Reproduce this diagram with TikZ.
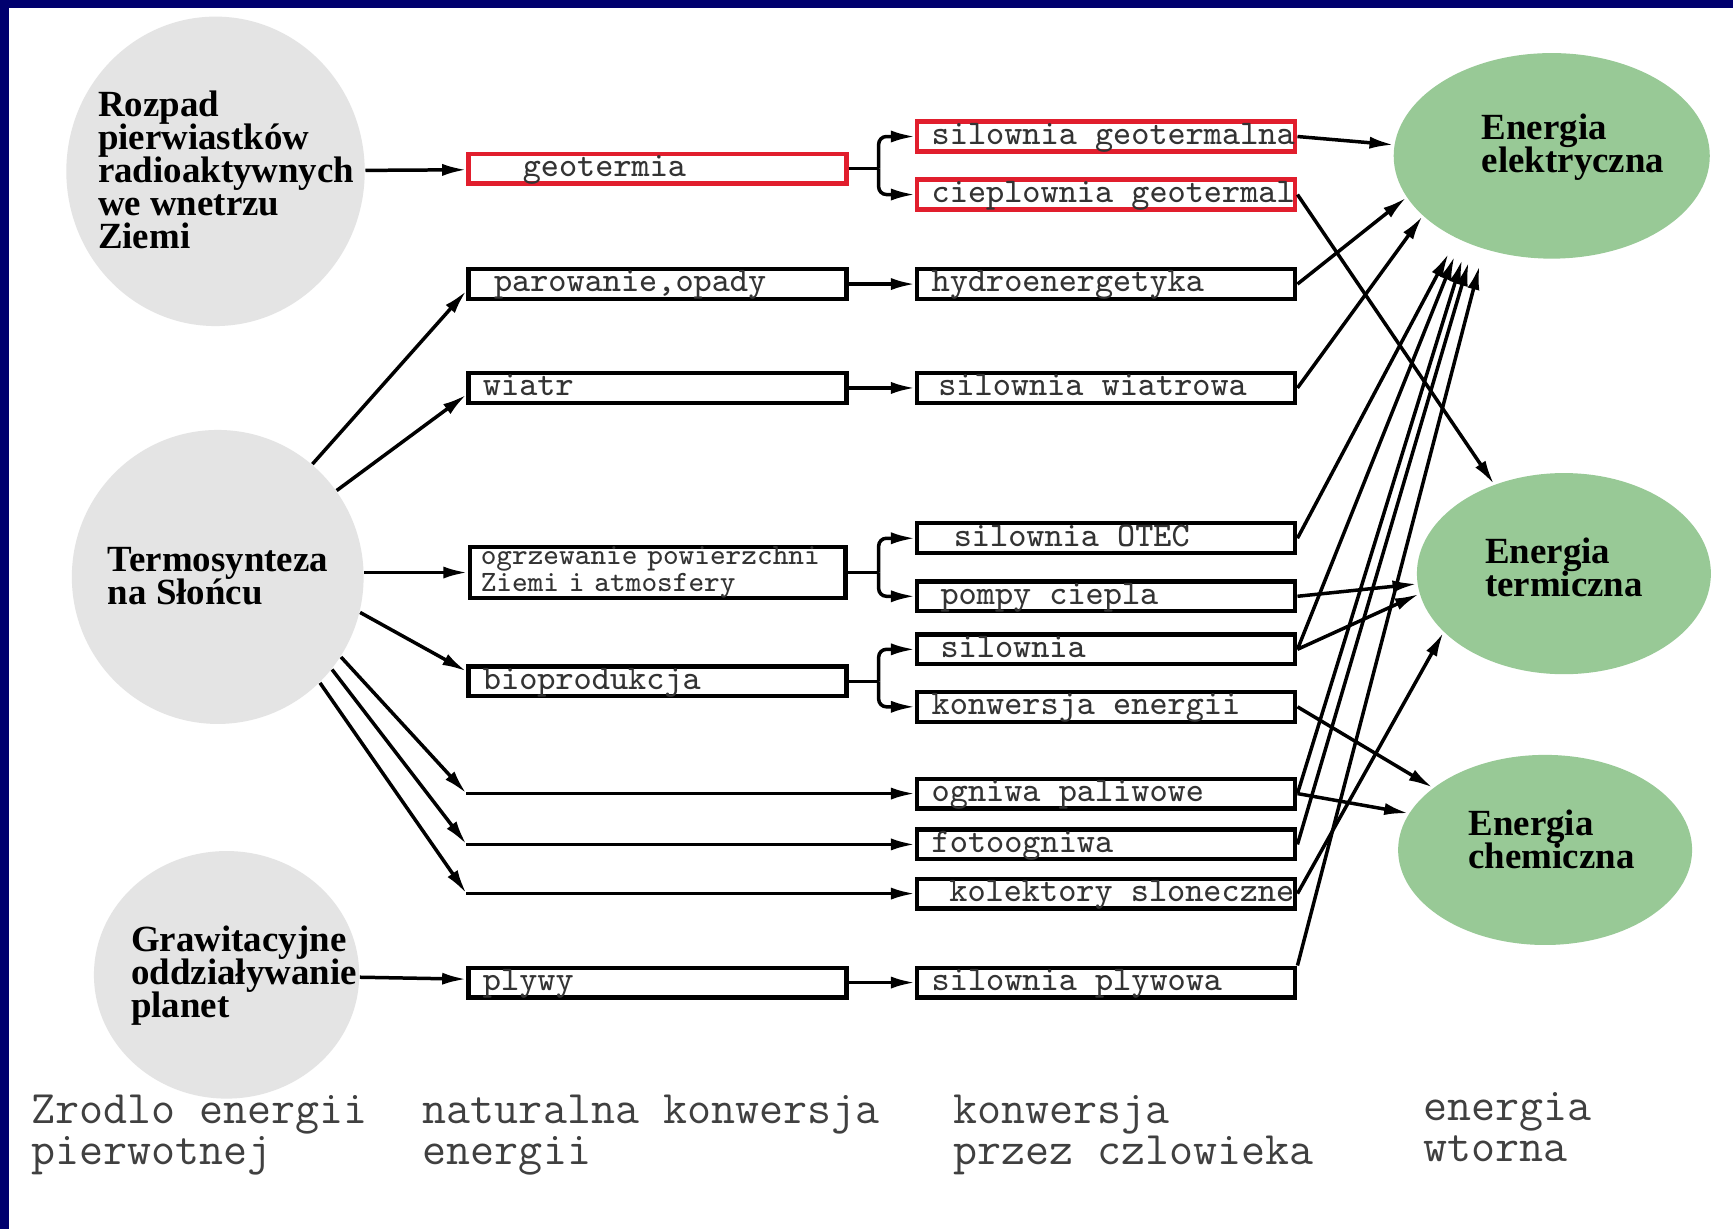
\documentclass[tikz,border=0pt]{standalone}
\usepackage{fontspec}
\setmainfont{Liberation Serif}
\usepackage{tikz}
\usetikzlibrary{arrows.meta,shapes.geometric,positioning}

\definecolor{frameblue}{RGB}{0,0,110}
\definecolor{srcgray}{RGB}{228,228,228}
\definecolor{outgreen}{RGB}{152,201,150}
\definecolor{boxred}{RGB}{225,30,45}

\newcommand{\srcfont}{\fontsize{9.5pt}{8.5pt}\selectfont\lineskiplimit=-6pt\bfseries}
\newcommand{\boxfont}{\fontsize{8.9pt}{8pt}\selectfont\ttfamily}
\newcommand{\smallboxfont}{\fontsize{7.6pt}{6.8pt}\selectfont\lineskiplimit=-6pt\ttfamily}
\newcommand{\capfont}{\fontsize{12pt}{10.6pt}\selectfont\lineskiplimit=-6pt\ttfamily}

\tikzset{
  srcell/.style={ellipse, fill=srcgray, inner sep=0pt},
  outell/.style={ellipse, fill=outgreen, inner sep=0pt},
  lbl/.style={anchor=west, align=left, inner sep=0pt, font=\srcfont},
  box/.style={draw, fill=white, line width=1.1pt, text=black!80, font=\boxfont,
    minimum width=34.2mm, minimum height=2.7mm, inner xsep=1.3mm, inner ysep=0pt,
    text height=1.9mm, text depth=0.5mm,
    execute at begin node={\hbox to 31.6mm\bgroup}, execute at end node={\hfil\egroup}},
  redbox/.style={box, draw=boxred},
  twobox/.style={draw, fill=white, line width=1.1pt, text=black!80, font=\smallboxfont,
    minimum height=4.6mm, inner xsep=1mm, inner ysep=0pt, text width=32mm, align=left},
  arr/.style={-{Latex[length=2.2mm,width=1.1mm]}, line width=0.9pt},
  caption/.style={anchor=west, align=left, inner sep=0pt, font=\capfont, text=black!75}
}

\begin{document}
\begin{tikzpicture}[x=0.1mm, y=-0.1mm]
\useasboundingbox (0,0) rectangle (1568,1112);
\fill[frameblue] (0,0) rectangle (1568,1112);
\fill[white] (8,7.5) rectangle (1568,1112);

% zrodla energii pierwotnej
\node[srcell, minimum width=27mm, minimum height=28mm] (rozpad) at (195,155) {};
\node[srcell, minimum width=26.4mm, minimum height=26.6mm] (termo) at (197,522) {};
\node[srcell, minimum width=24mm, minimum height=22.4mm] (grawit) at (205,882) {};
\node[lbl] (rozpadtxt) at (88,154) {Rozpad\\pierwiastków\\radioaktywnych\\we wnetrzu\\Ziemi};
\node[lbl] (termotxt) at (97,521) {Termosynteza\\na Słońcu};
\node[lbl] (grawittxt) at (118,883) {Grawitacyjne\\oddziaływanie\\planet};

% energia wtorna
\node[outell, minimum width=28.6mm, minimum height=18.6mm] (elek) at (1404,141) {};
\node[outell, minimum width=26.6mm, minimum height=18.2mm] (term) at (1415,519) {};
\node[outell, minimum width=26.6mm, minimum height=17.2mm] (chem) at (1398,769) {};
\node[lbl] (elektxt) at (1340,133) {Energia\\elektryczna};
\node[lbl] (termtxt) at (1343,513) {Energia\\termiczna};
\node[lbl] (chemtxt) at (1328,759) {Energia\\chemiczna};

% naturalna konwersja energii
\node[redbox] (geo) at (595,152.5) {\hspace*{3.6mm}geotermia};
\node[box] (parow) at (595,257) {\hspace*{1mm}parowanie,opady};
\node[box] (wiatr) at (595,351) {wiatr};
\node[twobox] (ogrz) at (595,518) {ogrzewanie powierzchni\\Ziemi i atmosfery};
\node[box] (bio) at (595,616.5) {bioprodukcja};
\node[box] (plywy) at (595,889) {plywy};

% konwersja przez czlowieka
\node[redbox] (sgeo) at (1001,123.5) {silownia geotermalna};
\node[redbox] (cgeo) at (1001,176) {cieplownia geotermal};
\node[box] (hydro) at (1001,257) {hydroenergetyka};
\node[box] (swiatr) at (1001,351) {\hspace*{0.6mm}silownia wiatrowa};
\node[box] (otec) at (1001,487) {\hspace*{2mm}silownia OTEC};
\node[box] (pompy) at (1001,539.5) {\hspace*{0.8mm}pompy ciepla};
\node[box] (sbio) at (1001,587.5) {\hspace*{0.8mm}silownia};
\node[box] (konw) at (1001,639.5) {konwersja energii};
\node[box] (ogniwa) at (1001,718) {ogniwa paliwowe};
\node[box] (foto) at (1001,764) {fotoogniwa};
\node[box] (kolekt) at (1001,808.5) {\hspace*{1.6mm}kolektory sloneczne};
\node[box] (splyw) at (1001,889) {silownia plywowa};

\coordinate (bx) at (795,0);
\coordinate (k1) at (ogniwa.west -| bio.west);
\coordinate (k2) at (foto.west -| bio.west);
\coordinate (k3) at (kolekt.west -| bio.west);

% od zrodel
\draw[arr] (rozpad) -- (geo);
\draw[arr] (termo.50) -- (parow.182);
\draw[arr] (termo.36) -- (wiatr.182);
\draw[arr] (termo.east |- ogrz.west) -- (ogrz.west);
\draw[arr] (termo.-14) -- (bio.177);
\draw[arr] (termo.-33) -- (k1);
\draw[arr] (termo.-39.5) -- (k2);
\draw[arr] (termo.-46.5) -- (k3);
\draw[arr] (k1) -- (ogniwa);
\draw[arr] (k2) -- (foto);
\draw[arr] (k3) -- (kolekt);
\draw[arr] (grawit) -- (plywy);

% rozgalezienia
\draw[line width=0.9pt] (geo.east) -- (geo.east -| bx);
\draw[arr, rounded corners=2pt] (geo.east -| bx) |- (sgeo.west);
\draw[arr, rounded corners=2pt] (geo.east -| bx) |- (cgeo.west);
\draw[line width=0.9pt] (ogrz.east) -- (ogrz.east -| bx);
\draw[arr, rounded corners=2pt] (ogrz.east -| bx) |- (otec.west);
\draw[arr, rounded corners=2pt] (ogrz.east -| bx) |- (pompy.west);
\draw[line width=0.9pt] (bio.east) -- (bio.east -| bx);
\draw[arr, rounded corners=2pt] (bio.east -| bx) |- (sbio.west);
\draw[arr, rounded corners=2pt] (bio.east -| bx) |- (konw.west);
\draw[arr] (parow) -- (hydro);
\draw[arr] (wiatr) -- (swiatr);
\draw[arr] (plywy) -- (splyw);

% do energii wtornej
\draw[arr] (sgeo.east) -- (elek.176);
\draw[arr] (hydro.east) -- (elek.196);
\draw[arr] (swiatr.east) -- (elek.205);
\draw[arr, shorten >=1.5mm] (otec.east) -- (elek.221);
\draw[arr, shorten >=1.5mm] (sbio.east) -- (elek.223);
\draw[arr, shorten >=1.5mm] (ogniwa.east) -- (elek.226);
\draw[arr, shorten >=1.5mm] (foto.east) -- (elek.229);
\draw[arr, shorten >=1.5mm] (splyw.north east) -- (elek.234);
\draw[arr] (cgeo.east) -- (term.128);
\draw[arr] (pompy.east) -- (term.184);
\draw[arr] (sbio.east) -- (term.188);
\draw[arr] (kolekt.east) -- (term.206);
\draw[arr] (konw.east) -- (chem.151);
\draw[arr] (ogniwa.east) -- (chem.165);

% podpisy kolumn
\node[caption] (capsrc) at (28,1027) {Zrodlo energii\\pierwotnej};
\node[caption] (capnat) at (382,1027) {naturalna konwersja\\energii};
\node[caption] (capman) at (862,1027) {konwersja\\przez czlowieka};
\node[caption] (capsec) at (1287,1020) {energia\\wtorna};
\end{tikzpicture}
\end{document}
